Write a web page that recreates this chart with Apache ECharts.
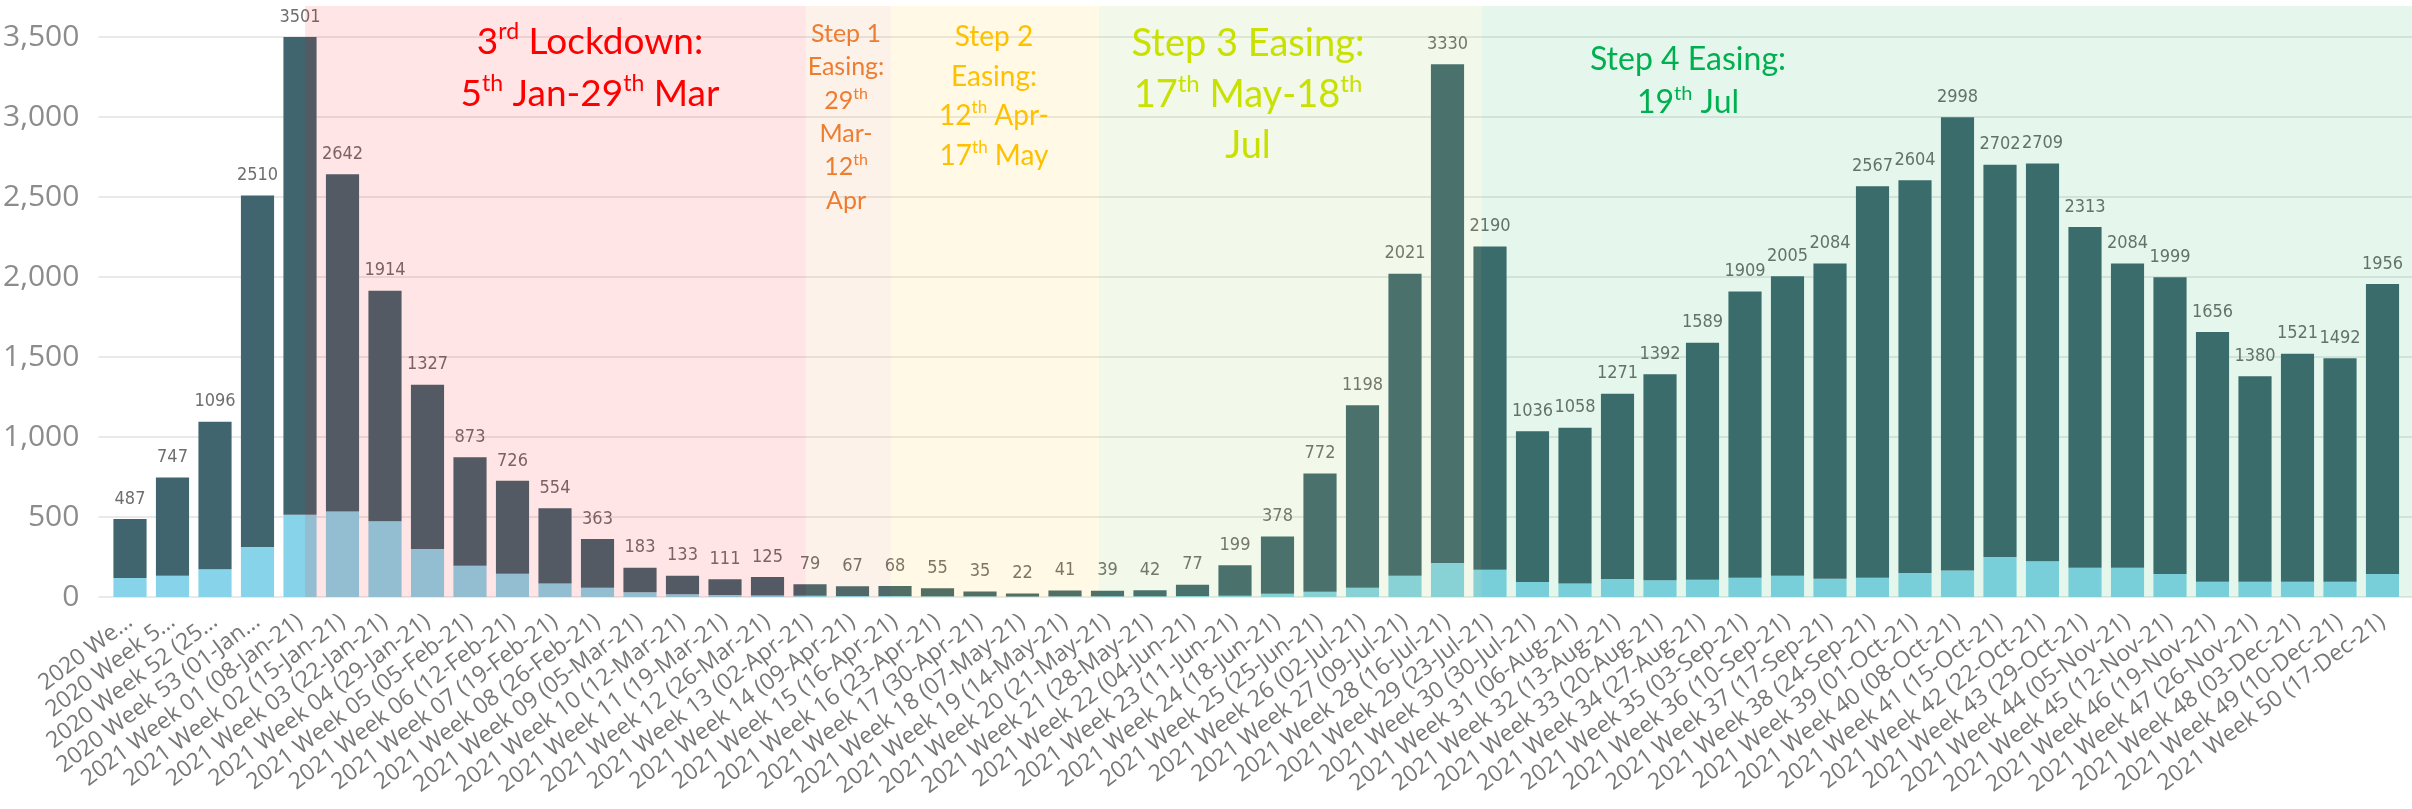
<!DOCTYPE html>
<html>
<head>
<meta charset="utf-8">
<script src="https://cdn.jsdelivr.net/npm/echarts@6/dist/echarts.min.js"></script>
<style>
  html, body { margin: 0; padding: 0; background: #fff; }
  #chart { width: 2412px; height: 809px; }
</style>
</head>
<body>
<div id="chart"></div>
<script>
// week labels as shown (first four are cut short in the original)
var weeks = [
  '2020 We...', '2020 Week 5...', '2020 Week 52 (25...', '2020 Week 53 (01-Jan...',
  '2021 Week 01 (08-Jan-21)', '2021 Week 02 (15-Jan-21)', '2021 Week 03 (22-Jan-21)', '2021 Week 04 (29-Jan-21)',
  '2021 Week 05 (05-Feb-21)', '2021 Week 06 (12-Feb-21)', '2021 Week 07 (19-Feb-21)', '2021 Week 08 (26-Feb-21)',
  '2021 Week 09 (05-Mar-21)', '2021 Week 10 (12-Mar-21)', '2021 Week 11 (19-Mar-21)', '2021 Week 12 (26-Mar-21)',
  '2021 Week 13 (02-Apr-21)', '2021 Week 14 (09-Apr-21)', '2021 Week 15 (16-Apr-21)', '2021 Week 16 (23-Apr-21)',
  '2021 Week 17 (30-Apr-21)', '2021 Week 18 (07-May-21)', '2021 Week 19 (14-May-21)', '2021 Week 20 (21-May-21)',
  '2021 Week 21 (28-May-21)', '2021 Week 22 (04-Jun-21)', '2021 Week 23 (11-Jun-21)', '2021 Week 24 (18-Jun-21)',
  '2021 Week 25 (25-Jun-21)', '2021 Week 26 (02-Jul-21)', '2021 Week 27 (09-Jul-21)', '2021 Week 28 (16-Jul-21)',
  '2021 Week 29 (23-Jul-21)', '2021 Week 30 (30-Jul-21)', '2021 Week 31 (06-Aug-21)', '2021 Week 32 (13-Aug-21)',
  '2021 Week 33 (20-Aug-21)', '2021 Week 34 (27-Aug-21)', '2021 Week 35 (03-Sep-21)', '2021 Week 36 (10-Sep-21)',
  '2021 Week 37 (17-Sep-21)', '2021 Week 38 (24-Sep-21)', '2021 Week 39 (01-Oct-21)', '2021 Week 40 (08-Oct-21)',
  '2021 Week 41 (15-Oct-21)', '2021 Week 42 (22-Oct-21)', '2021 Week 43 (29-Oct-21)', '2021 Week 44 (05-Nov-21)',
  '2021 Week 45 (12-Nov-21)', '2021 Week 46 (19-Nov-21)', '2021 Week 47 (26-Nov-21)', '2021 Week 48 (03-Dec-21)',
  '2021 Week 49 (10-Dec-21)', '2021 Week 50 (17-Dec-21)'
];

// weekly totals (label on top of each bar)
var totals = [
  487, 747, 1096, 2510, 3501, 2642, 1914, 1327, 873, 726, 554, 363, 183, 133, 111, 125,
  79, 67, 68, 55, 35, 22, 41, 39, 42, 77, 199, 378, 772, 1198, 2021, 3330, 2190,
  1036, 1058, 1271, 1392, 1589, 1909, 2005, 2084, 2567, 2604, 2998, 2702, 2709,
  2313, 2084, 1999, 1656, 1380, 1521, 1492, 1956
];

// light lower part of each bar
var lowerPart = [
  119, 133, 173, 312, 514, 535, 474, 300, 196, 146, 85, 58, 29, 17, 12, 10,
  8, 7, 6, 5, 4, 3, 5, 4, 5, 7, 8, 21, 33, 58, 133, 212, 171,
  94, 85, 112, 104, 108, 121, 133, 114, 121, 150, 166, 250, 223,
  183, 183, 144, 96, 96, 96, 96, 144
];

// restriction phases, in bar-index units
var phaseStart = [4.12, 15.9, 17.9, 22.8, 31.8];
var phaseEnd = [15.9, 17.9, 22.8, 31.8, null];
var phaseColor = ['rgba(255,0,0,0.1)', 'rgba(237,125,49,0.1)', 'rgba(255,192,0,0.1)',
  'rgba(146,208,80,0.12)', 'rgba(0,176,80,0.1)'];

var upperPart = totals.map(function (t, i) { return t - lowerPart[i]; });

// layout
var W = 2412, H = 809;
var PITCH = 42.5, FIRST_CENTER = 130;
var ZERO_Y = 597, TOP_Y = 37;
var barLeft = FIRST_CENTER - PITCH / 2;
var barRight = W - (barLeft + PITCH * weeks.length);
var shadeLeft = 96;
var shadeMin = (shadeLeft - FIRST_CENTER) / PITCH;
var shadeMax = (W - FIRST_CENTER) / PITCH;

var shadeData = phaseStart.map(function (s, i) {
  return [
    {xAxis: s, itemStyle: {color: phaseColor[i]}},
    {xAxis: phaseEnd[i] == null ? shadeMax : phaseEnd[i]}
  ];
});

function note (lines, cx, y0, dy, size, color)
{
  return lines.map(function (line, i) {
    return {
      type: 'text',
      z: 100,
      silent: true,
      style: {
        text: line,
        x: cx,
        y: y0 + i * dy,
        align: 'center',
        verticalAlign: 'middle',
        fill: color,
        fontSize: size,
        fontFamily: 'Lato',
        lineHeight: size * 1.2,
        rich: {
          s: {
            fontSize: Math.round(size * 0.62),
            fontFamily: 'Lato',
            fill: color,
            verticalAlign: 'top',
            lineHeight: size * 0.8
          }
        }
      }
    };
  });
}

var notes = [].concat(
  note(['3{s|rd} Lockdown:', '5{s|th} Jan-29{s|th} Mar'], 590, 42, 52, 37, '#ff0000'),
  note(['Step 1', 'Easing:', '29{s|th}', 'Mar-', '12{s|th}', 'Apr'], 846, 34, 33.3, 25, '#ed7d31'),
  note(['Step 2', 'Easing:', '12{s|th} Apr-', '17{s|th} May'], 994, 37, 39.5, 28, '#ffc000'),
  note(['Step 3 Easing:', '17{s|th} May-18{s|th}', 'Jul'], 1248, 44, 51, 38, '#c8e100'),
  note(['Step 4 Easing:', '19{s|th} Jul'], 1688, 60, 43, 32, '#00b050')
);

var chart = echarts.init(document.getElementById('chart'));

chart.setOption({
  backgroundColor: '#ffffff',
  animation: false,
  grid: [
    {left: barLeft, right: barRight, top: TOP_Y, bottom: H - ZERO_Y},
    {left: shadeLeft, right: 0, top: 6, bottom: H - ZERO_Y},
    {left: shadeLeft, right: 0, top: TOP_Y, bottom: H - ZERO_Y}
  ],
  xAxis: [
    {
      gridIndex: 0,
      type: 'category',
      data: weeks,
      axisTick: {show: false},
      axisLine: {show: false},
      axisLabel: {
        interval: 0,
        rotate: 37,
        margin: 22,
        fontSize: 23,
        color: '#777777',
        fontFamily: 'Open Sans'
      }
    },
    {gridIndex: 1, type: 'value', min: shadeMin, max: shadeMax, show: false},
    {gridIndex: 2, type: 'value', min: 0, max: 1, show: false}
  ],
  yAxis: [
    {gridIndex: 0, type: 'value', min: 0, max: 3500, show: false},
    {gridIndex: 1, type: 'value', min: 0, max: 1, show: false},
    {
      gridIndex: 2,
      type: 'value',
      min: 0,
      max: 3500,
      interval: 500,
      axisLine: {show: false},
      axisTick: {show: false},
      axisLabel: {
        margin: 19,
        fontSize: 30,
        color: '#8c8c8c',
        fontFamily: 'Open Sans',
        formatter: function (v) { return v.toLocaleString('en-US'); }
      },
      splitLine: {lineStyle: {color: '#e2e2e2', width: 1.5}}
    }
  ],
  series: [
    {
      name: 'lower',
      type: 'bar',
      xAxisIndex: 0,
      yAxisIndex: 0,
      stack: 'week',
      barCategoryGap: '22%',
      data: lowerPart,
      itemStyle: {color: '#87d3e9'}
    },
    {
      name: 'upper',
      type: 'bar',
      xAxisIndex: 0,
      yAxisIndex: 0,
      stack: 'week',
      barCategoryGap: '22%',
      data: upperPart,
      itemStyle: {color: '#40656f'},
      label: {
        show: true,
        position: 'top',
        distance: 11,
        fontSize: 18,
        color: '#6e6e6e',
        fontFamily: "'Liberation Sans Narrow', 'DejaVu Sans Condensed', sans-serif",
        formatter: function (p) { return totals[p.dataIndex]; }
      }
    },
    {
      name: 'phases',
      type: 'line',
      xAxisIndex: 1,
      yAxisIndex: 1,
      data: [],
      silent: true,
      z: 5,
      markArea: {
        silent: true,
        z: 5,
        data: shadeData
      }
    }
  ],
  graphic: notes
});
</script>
</body>
</html>
